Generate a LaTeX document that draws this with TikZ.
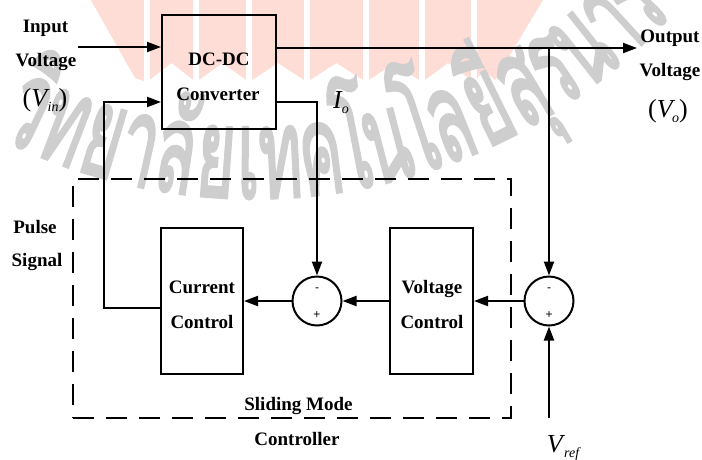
\documentclass[tikz,border=0pt]{standalone}
\usepackage{fontspec}
\setmainfont{Liberation Serif}
\newfontfamily\thaifont[Script=Thai,FakeBold=3]{Loma}
\newfontfamily\signfont{Liberation Sans}
\usetikzlibrary{arrows.meta,calc}
\definecolor{wmgray}{RGB}{206,206,206}
\definecolor{wmpink}{RGB}{253,221,214}
\newcommand\mysub[1]{\raisebox{-5pt}{\fontsize{14}{14}\selectfont\itshape #1}}
\tikzset{
  box/.style={draw, line width=2pt, inner sep=0pt},
  sumc/.style={circle, draw, line width=2pt, minimum size=49pt, inner sep=0pt},
  lab/.style={font=\fontsize{19}{20}\selectfont\bfseries, anchor=base, inner sep=0pt},
  mth/.style={font=\fontsize{26}{28}\selectfont, anchor=base, inner sep=0pt},
  sgn/.style={font=\signfont\fontsize{12}{12}\selectfont, inner sep=0pt},
  wire/.style={line width=2pt},
  arr/.style={wire, -{Triangle[length=14pt,width=10pt]}},
  dashbox/.style={draw, line width=2pt, dash pattern=on 21pt off 12pt, inner sep=0pt},
  wm/.style={font=\thaifont\fontsize{125}{125}\selectfont, text=wmgray, anchor=base, inner sep=0pt}
}
\begin{document}
\begin{tikzpicture}[x=1pt,y=-1pt]
\useasboundingbox (0,0) rectangle (702,459);
% watermark logo
\fill[wmpink] (88,-5) -- (135,78) -- (147,82) -- (171.5,63) -- (196,82) -- (222.5,63) -- (249,82)
  -- (278,63) -- (307,82) -- (336.5,63) -- (366,82) -- (394,63) -- (422,82) -- (448,63)
  -- (474,82) -- (484,70) -- (495,80) -- (546,-5) -- cycle;
\foreach \g in {147,196,249,307,366,422,474}
  \draw[white, line width=6pt] (\g,-5) -- (\g,90);
% watermark text laid along an arc
\foreach \a/\t in {-115.2/วิ,-110.9/ท,-106.5/ย,-102.5/า,-98.5/ลั,-94.1/ย,-90.6/เ,-87.1/ท,-82.7/ค,-79.1/โ,-75.4/น,-71.8/โ,-68.2/ล,-63.7/ยี,-59.4/สุ,-55.6/ร,-51.6/น,-47.5/า,-44.0/รี}
  \node[wm, rotate=\a+90] at ({254+565*cos(\a)},{-367-565*sin(\a)}) {\scalebox{0.52}[1]{\t}};
% blocks
\node[box, minimum width=114pt, minimum height=114pt] (dc) at (219,72) {};
\node[box, minimum width=82pt, minimum height=146pt] (cc) at (202,301) {};
\node[box, minimum width=83pt, minimum height=146pt] (vc) at (431.5,301) {};
\node[sumc] (s1) at (317,301) {};
\node[sumc] (s2) at (549,301) {};
\node[dashbox, minimum width=438pt, minimum height=239pt] (ctrl) at (292,298.5) {};
% texts
\node[lab] (tin1) at (45.5,32) {Input};
\node[lab] (tin2) at (46,66) {Voltage};
\node[mth] (tin3) at (45,106) {(\textit{V}\kern-2pt\mysub{in})};
\node[lab] (tdc1) at (219,65) {DC-DC};
\node[lab] (tdc2) at (218,100) {Converter};
\node[mth] (tio) at (341,108) {\textit{I}\kern-1pt\mysub{o}};
\node[lab] (tout1) at (670,42) {Output};
\node[lab] (tout2) at (670,76) {Voltage};
\node[mth] (tout3) at (668,117) {(\textit{V}\kern-3pt\mysub{o})};
\node[lab] (tp1) at (35,233) {Pulse};
\node[lab] (tp2) at (37,266) {Signal};
\node[lab] (tcc1) at (202,293) {Current};
\node[lab] (tcc2) at (202,328) {Control};
\node[lab] (tvc1) at (432,293) {Voltage};
\node[lab] (tvc2) at (432,328) {Control};
\node[lab] (tsm1) at (298.5,410) {Sliding Mode};
\node[lab] (tsm2) at (297,445) {Controller};
\node[mth] (tvref) at (563,452) {\textit{V}\kern-1pt\mysub{ref}};
\node[sgn] (s1m) at (317,290) {-};
\node[sgn] (s1p) at (317,315) {+};
\node[sgn] (s2m) at (549,290) {-};
\node[sgn] (s2p) at (549,315) {+};
% connectors
\coordinate (inS) at (78,47);
\draw[arr] (inS) -- (inS -| dc.west);
\coordinate (outE) at (637,48);
\draw[arr] (outE -| dc.east) -- (outE);
\coordinate (ioB) at (317,102);
\draw[arr] (ioB -| dc.east) -- (ioB) -- (s1.north);
\coordinate (fbB) at (104,308);
\coordinate (fbT) at (104,102);
\draw[arr] (fbB -| cc.west) -- (fbB) -- (fbT) -- (fbT -| dc.west);
\draw[arr] (s1.west) -- (cc.east);
\draw[arr] (vc.west) -- (s1.east);
\draw[arr] (s2.west) -- (vc.east);
\draw[arr] (s2 |- outE) -- (s2.north);
\coordinate (vrB) at (549,418);
\draw[arr] (vrB) -- (s2.south);
\end{tikzpicture}
\end{document}
